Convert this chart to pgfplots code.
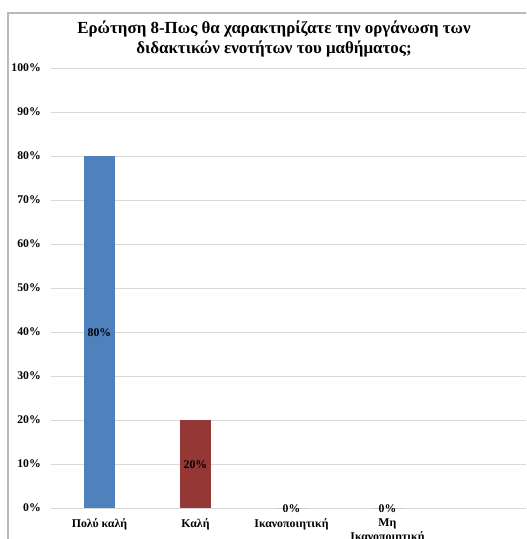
\documentclass[border=0pt]{standalone}
\usepackage{fontspec}
\setmainfont{Liberation Serif}
\usepackage{pgfplots}
\pgfplotsset{compat=1.18}

\definecolor{barblue}{RGB}{79,129,189}
\definecolor{barred}{RGB}{149,55,53}
\definecolor{gridgray}{RGB}{217,217,217}
\definecolor{framegray}{RGB}{185,185,185}

\begin{document}
\begin{tikzpicture}
% page area: 526 x 539 units of 0.75pt
\path[use as bounding box, clip] (0,0) rectangle (394.5pt,-404.25pt);
% chart frame
\draw[framegray, line width=1.1pt] (6pt,-9.75pt) rectangle (450pt,-450pt);
% title
\node[font=\bfseries\fontsize{12.7pt}{14.6pt}\selectfont, align=center]
  at (205.5pt,-29.1pt)
  {Ερώτηση 8-Πως θα χαρακτηρίζατε την οργάνωση των\\διδακτικών ενοτήτων του μαθήματος;};
\begin{axis}[
  at={(38.6pt,-381pt)}, anchor=south west,
  scale only axis, width=360pt, height=330pt,
  xmin=-0.5, xmax=4.5, ymin=0, ymax=100,
  separate axis lines,
  axis x line*=bottom, axis y line*=left,
  y axis line style={draw=none},
  x axis line style={gridgray, line width=0.75pt, -},
  ymajorgrids, grid style={gridgray, line width=0.75pt},
  major tick length=0pt,
  ytick={0,10,...,100},
  yticklabel={\pgfmathprintnumber[assume math mode=true]{\tick}\%},
  yticklabel style={font=\bfseries\fontsize{8.8pt}{10pt}\selectfont, xshift=-4.5pt},
  xtick={0,1,2,3},
  xticklabels={Πολύ καλή, Καλή, Ικανοποιητική, {Μη\\Ικανοποιητική}},
  xticklabel style={font=\bfseries\fontsize{8.9pt}{10.5pt}\selectfont, align=center, yshift=-4.5pt},
  ybar, bar width=0.323, bar shift=0pt,
  nodes near coords={\pgfmathprintnumber[assume math mode=true]{\pgfplotspointmeta}\%},
  visualization depends on={y \as \rawy},
  every node near coord/.append style={font=\bfseries\fontsize{8.8pt}{10pt}\selectfont,
    text=black, anchor=center, yshift={-\rawy*1.65pt-0.6pt}},
]
\addplot[fill=barblue, draw=none] coordinates {(0,80)};
\addplot[fill=barred, draw=none] coordinates {(1,20)};
\addplot[fill=barblue, draw=none] coordinates {(2,0)};
\addplot[fill=barblue, draw=none] coordinates {(3,0)};
\end{axis}
\end{tikzpicture}
\end{document}
